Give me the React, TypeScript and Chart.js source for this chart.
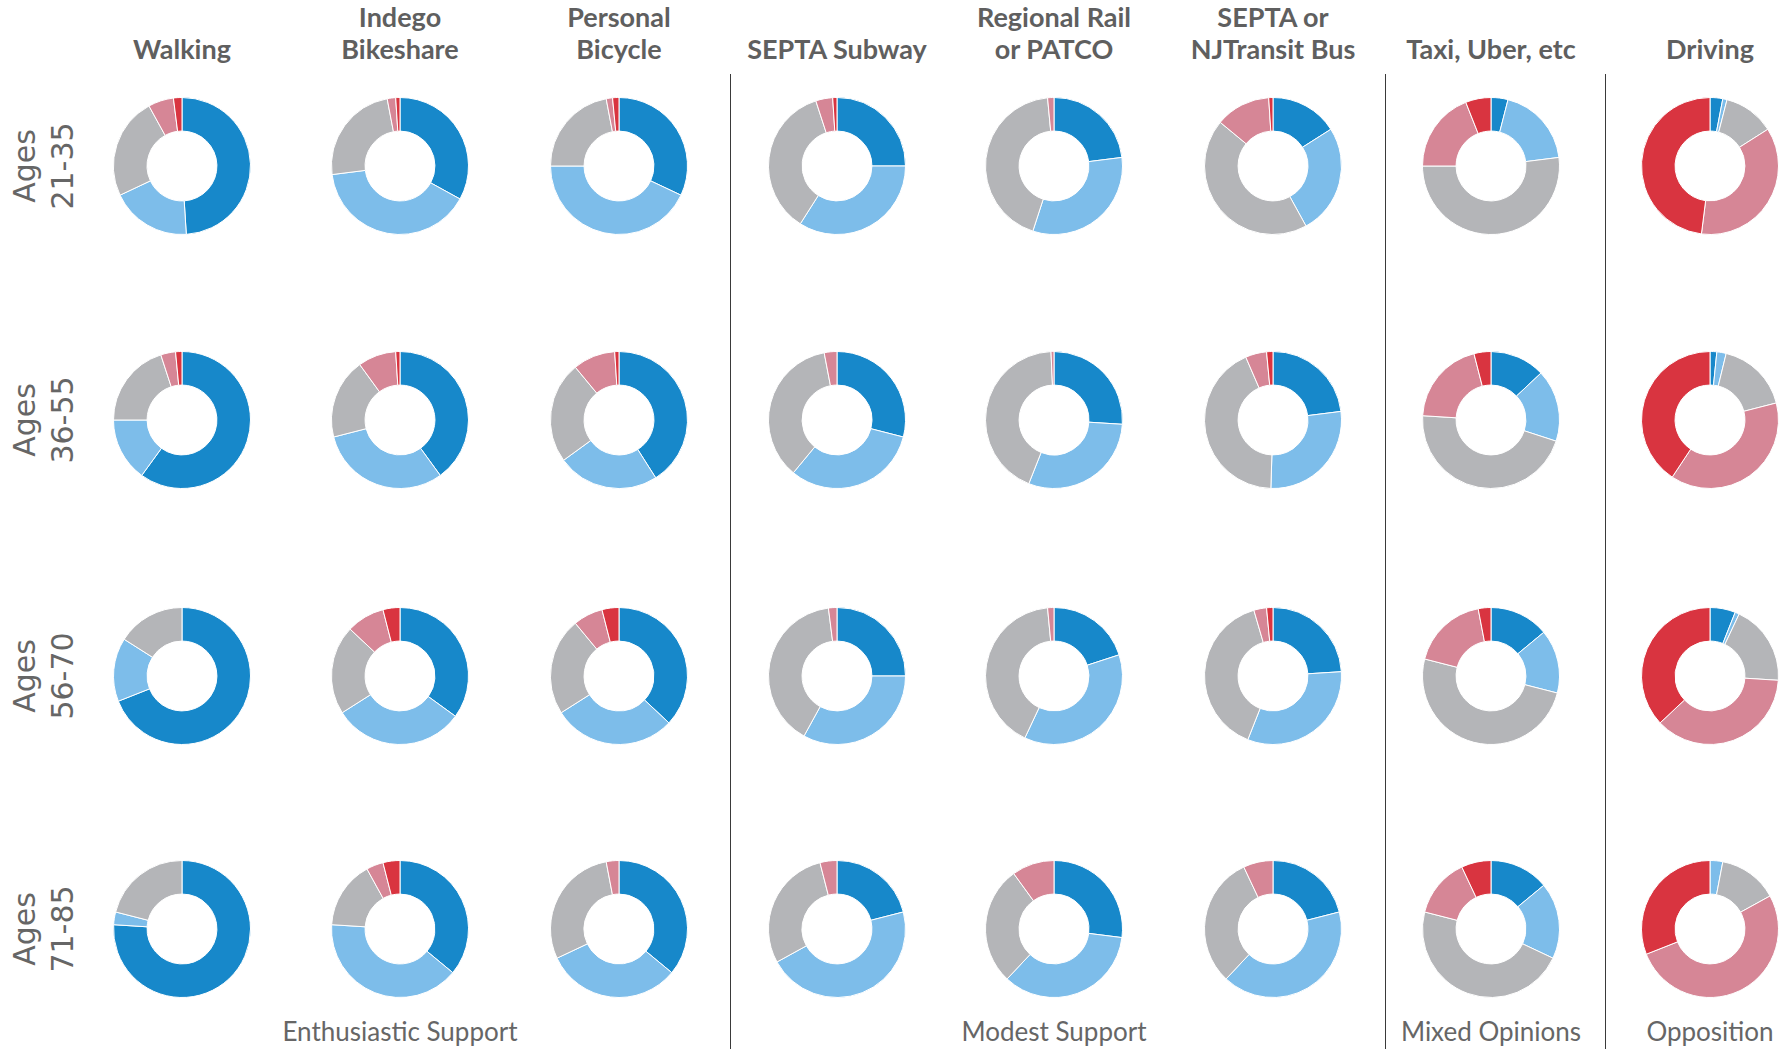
import React, { useEffect, useRef } from "react";
import { Chart, registerables } from "chart.js";

Chart.register(...registerables);

// Column headers (travel modes) and row headers (age groups)
const modes = [
  "Walking",
  "Indego\nBikeshare",
  "Personal\nBicycle",
  "SEPTA Subway",
  "Regional Rail\nor PATCO",
  "SEPTA or\nNJTransit Bus",
  "Taxi, Uber, etc",
  "Driving",
];
const ageGroups = ["Ages\n21-35", "Ages\n36-55", "Ages\n56-70", "Ages\n71-85"];

// Response levels, clockwise from 12 o'clock
const responseLevels = [
  "Strongly support",
  "Somewhat support",
  "Neutral",
  "Somewhat oppose",
  "Strongly oppose",
];
const responseColors = ["#1788CA", "#7DBDEA", "#B4B5B8", "#D68696", "#D93440"];

// Share of respondents (%) per mode, one array per age group
const ages21to35 = [
  [49, 19, 24, 6, 2],
  [33, 40, 24, 2, 1],
  [32, 43, 22, 1.5, 1.5],
  [25, 34, 36, 4, 1],
  [23, 32, 43.5, 1.5, 0],
  [16, 26, 44, 13, 1],
  [4, 19, 52, 19, 6],
  [3, 1, 12, 36, 48],
];
const ages36to55 = [
  [60, 15, 20, 3.5, 1.5],
  [40, 31, 19, 9, 1],
  [41, 24, 24, 10, 1],
  [29, 32, 36, 3, 0],
  [26, 30, 43.3, 0.7, 0],
  [23, 27.5, 43, 5, 1.5],
  [13, 17, 46, 20, 4],
  [1.6, 2.2, 17.2, 38.3, 40.7],
];
const ages56to70 = [
  [69, 15, 16, 0, 0],
  [35, 31, 21, 9, 4],
  [37, 29, 23, 7, 4],
  [25, 33, 40, 2, 0],
  [20, 37, 41.5, 1.5, 0],
  [24, 32, 39.5, 3, 1.5],
  [14, 15, 50, 18, 3],
  [6, 1, 19, 37, 37],
];
const ages71to85 = [
  [76, 3, 21, 0, 0],
  [36, 40, 16, 4, 4],
  [36, 32, 29, 3, 0],
  [21, 46, 29, 4, 0],
  [27, 35, 28, 10, 0],
  [21, 41, 31, 7, 0],
  [14, 18, 47, 14, 7],
  [0, 3, 14, 52, 31],
];
const rows = [ages21to35, ages36to55, ages56to70, ages71to85];

// Support groups shown along the bottom, with the column each label sits under
const groupLabels = ["Enthusiastic Support", "Modest Support", "Mixed Opinions", "Opposition"];
const groupLabelColumn = [1, 4, 6, 7];

// Layout
const colX = [182, 400, 619, 837, 1054, 1273, 1491, 1710];
const rowY = [166, 420, 676, 929];
const dividerX = [730, 1385, 1605];
const DONUT = 138;

function Donut({ values, x, y }: { values: number[]; x: number; y: number }) {
  const ref = useRef<HTMLCanvasElement>(null);
  useEffect(() => {
    const chart = new Chart(ref.current!, {
      type: "doughnut",
      data: {
        labels: responseLevels,
        datasets: [
          {
            data: values,
            backgroundColor: responseColors,
            borderColor: "#ffffff",
            borderWidth: 1,
          },
        ],
      },
      options: {
        animation: false,
        responsive: false,
        cutout: "51%",
        layout: { padding: 0 },
        plugins: { legend: { display: false } },
      },
    });
    return () => chart.destroy();
  }, [values]);
  return (
    <canvas
      ref={ref}
      width={DONUT}
      height={DONUT}
      style={{
        position: "absolute",
        left: x - DONUT / 2,
        top: y - DONUT / 2,
        width: DONUT,
        height: DONUT,
      }}
    />
  );
}

const HEADER_LINE = 32;

export default function App() {
  useEffect(() => {
    document.body.style.margin = "0";
    document.body.style.overflow = "hidden";
  }, []);

  return (
    <div
      style={{
        position: "absolute",
        left: 0,
        top: 0,
        width: 1787,
        height: 1049,
        background: "#ffffff",
        overflow: "hidden",
      }}
    >
      {dividerX.map((x, i) => (
        <div
          key={"d" + i}
          style={{
            position: "absolute",
            left: x,
            top: 74,
            width: 1,
            height: 1049 - 74,
            background: "#3a3a3a",
          }}
        />
      ))}

      {modes.map((m, i) => {
        const lines = m.split("\n");
        return (
          <div
            key={"h" + i}
            style={{
              position: "absolute",
              left: colX[i] - 110,
              width: 220,
              top: 64.6 - lines.length * HEADER_LINE,
              textAlign: "center",
              fontFamily: "Lato, 'Open Sans', sans-serif",
              fontWeight: 700,
              fontSize: 27,
              lineHeight: HEADER_LINE + "px",
              color: "#5f5f5f",
              whiteSpace: "nowrap",
            }}
          >
            {lines.map((l, k) => (
              <div key={k}>{l}</div>
            ))}
          </div>
        );
      })}

      {ageGroups.map((g, r) => (
        <div
          key={"a" + r}
          style={{
            position: "absolute",
            left: 44 - 80,
            top: rowY[r] - 38,
            width: 160,
            height: 76,
            transform: "rotate(-90deg)",
            transformOrigin: "50% 50%",
            textAlign: "center",
            fontFamily: "'DejaVu Sans', sans-serif",
            fontSize: 30,
            lineHeight: "38px",
            color: "#666666",
            whiteSpace: "nowrap",
          }}
        >
          {g.split("\n").map((l, k) => (
            <div key={k}>{l}</div>
          ))}
        </div>
      ))}

      {rows.map((row, r) =>
        row.map((vals, c) => <Donut key={r + "-" + c} values={vals} x={colX[c]} y={rowY[r]} />)
      )}

      {groupLabels.map((g, i) => (
        <div
          key={"g" + i}
          style={{
            position: "absolute",
            left: colX[groupLabelColumn[i]] - 150,
            width: 300,
            top: 1016,
            textAlign: "center",
            fontFamily: "Lato, 'Open Sans', sans-serif",
            fontSize: 26,
            lineHeight: "30px",
            color: "#666666",
            whiteSpace: "nowrap",
          }}
        >
          {g}
        </div>
      ))}
    </div>
  );
}
